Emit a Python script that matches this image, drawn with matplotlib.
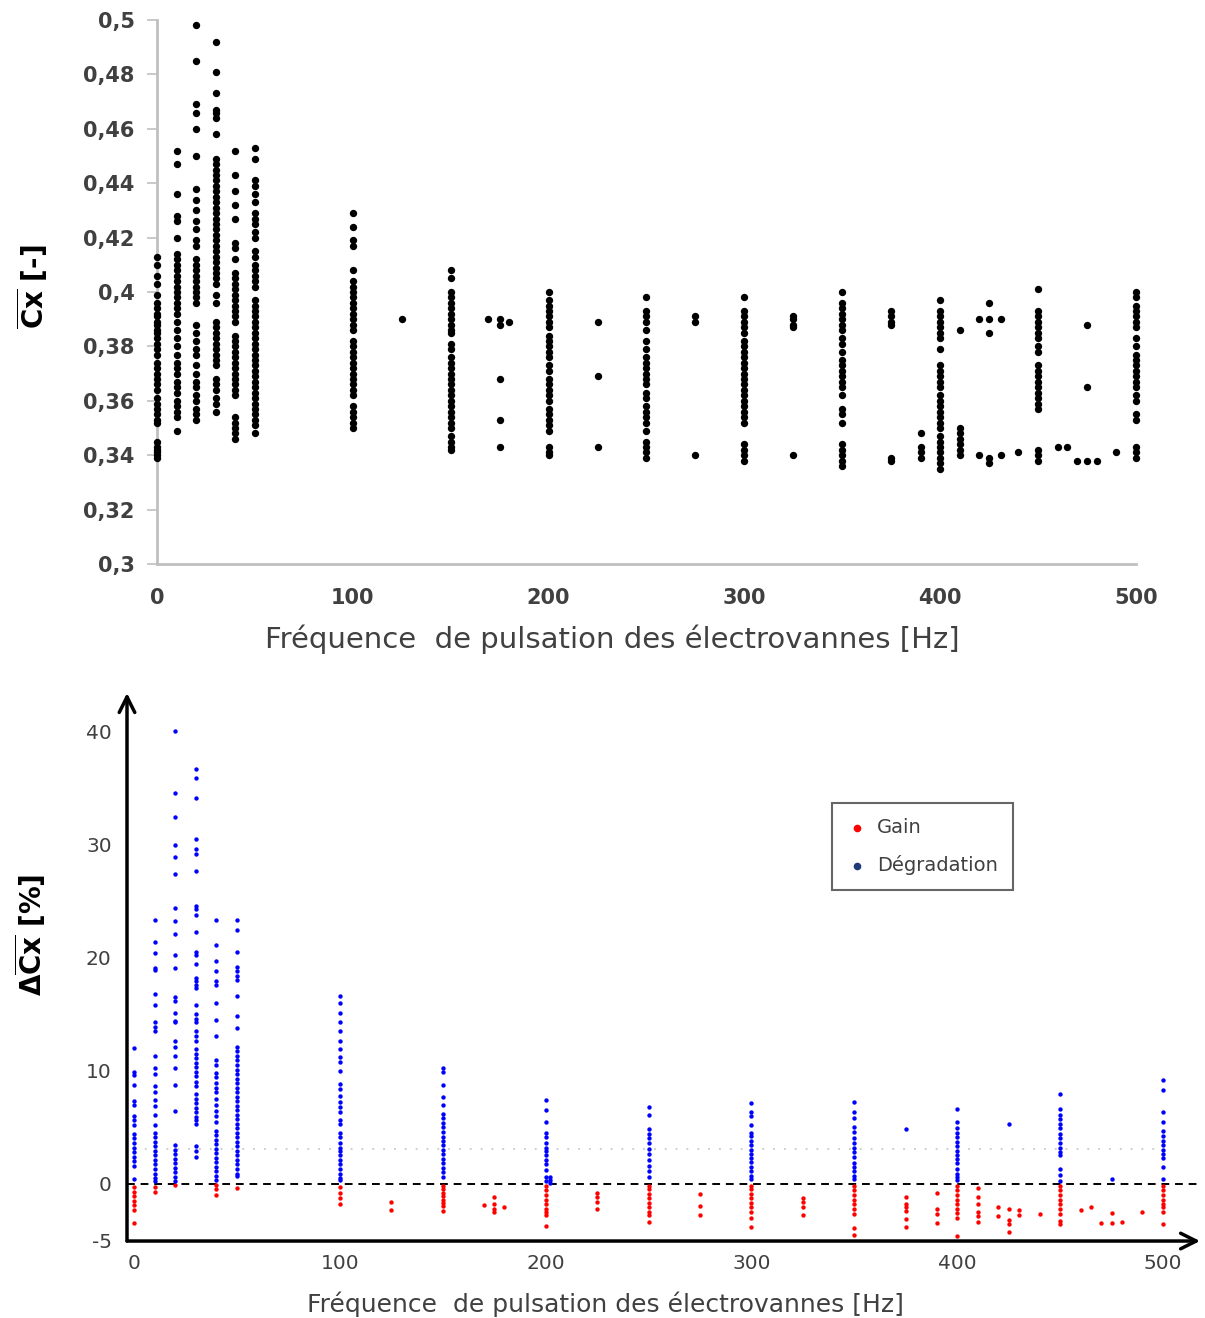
import matplotlib
matplotlib.use("Agg")
import matplotlib.pyplot as plt

# ---------------- top chart data : mean Cx per pulsation frequency ----------------
cx_000 = [0.413, 0.410, 0.406, 0.403, 0.399, 0.396, 0.394, 0.392, 0.391, 0.389, 0.388, 0.386,
          0.385, 0.383, 0.381, 0.379, 0.377, 0.374, 0.372, 0.370, 0.368, 0.366, 0.364, 0.361,
          0.359, 0.357, 0.355, 0.353, 0.352, 0.345, 0.343, 0.342, 0.341, 0.340, 0.339]
cx_010 = [0.452, 0.447, 0.436, 0.428, 0.426, 0.420, 0.414, 0.412, 0.410, 0.408, 0.406, 0.404,
          0.402, 0.400, 0.398, 0.396, 0.394, 0.392, 0.389, 0.386, 0.383, 0.380, 0.377, 0.374,
          0.372, 0.370, 0.367, 0.365, 0.363, 0.360, 0.358, 0.356, 0.354, 0.349]
cx_020 = [0.498, 0.485, 0.469, 0.466, 0.460, 0.450, 0.438, 0.434, 0.430, 0.426, 0.423, 0.419,
          0.417, 0.412, 0.410, 0.408, 0.406, 0.404, 0.402, 0.400, 0.398, 0.396, 0.388, 0.385,
          0.382, 0.379, 0.377, 0.373, 0.370, 0.367, 0.365, 0.362, 0.360, 0.357, 0.355, 0.353]
cx_030 = [0.492, 0.481, 0.473, 0.467, 0.466, 0.464, 0.458, 0.449, 0.447, 0.445, 0.443, 0.441,
          0.439, 0.437, 0.435, 0.433, 0.431, 0.429, 0.427, 0.425, 0.423, 0.421, 0.419, 0.417,
          0.415, 0.413, 0.411, 0.409, 0.407, 0.405, 0.403, 0.399, 0.396, 0.389, 0.387, 0.385,
          0.383, 0.381, 0.379, 0.377, 0.375, 0.373, 0.368, 0.366, 0.364, 0.361, 0.359, 0.356]
cx_040 = [0.452, 0.443, 0.437, 0.432, 0.427, 0.418, 0.416, 0.412, 0.407, 0.405, 0.403, 0.401,
          0.399, 0.397, 0.395, 0.393, 0.391, 0.389, 0.384, 0.382, 0.380, 0.378, 0.376, 0.374,
          0.372, 0.370, 0.368, 0.366, 0.364, 0.362, 0.354, 0.352, 0.350, 0.348, 0.346]
cx_050 = [0.453, 0.449, 0.441, 0.439, 0.436, 0.433, 0.429, 0.427, 0.425, 0.422, 0.420, 0.415,
          0.413, 0.410, 0.408, 0.406, 0.404, 0.402, 0.397, 0.395, 0.393, 0.391, 0.389, 0.387,
          0.385, 0.383, 0.381, 0.379, 0.377, 0.375, 0.373, 0.371, 0.369, 0.367, 0.365, 0.363,
          0.361, 0.359, 0.357, 0.355, 0.353, 0.351, 0.348]
cx_100 = [0.429, 0.424, 0.419, 0.417, 0.408, 0.404, 0.402, 0.400, 0.398, 0.396, 0.394, 0.392,
          0.390, 0.388, 0.386, 0.382, 0.380, 0.378, 0.376, 0.374, 0.372, 0.370, 0.368, 0.366,
          0.364, 0.362, 0.358, 0.356, 0.354, 0.352, 0.350]
cx_125 = [0.390]
cx_150 = [0.408, 0.405, 0.400, 0.398, 0.396, 0.394, 0.392, 0.390, 0.388, 0.386, 0.385, 0.381,
          0.379, 0.376, 0.374, 0.372, 0.370, 0.368, 0.366, 0.364, 0.362, 0.360, 0.358, 0.356,
          0.354, 0.352, 0.350, 0.347, 0.345, 0.343, 0.342]
cx_169 = [0.390]
cx_175 = [0.390, 0.388, 0.368, 0.353, 0.343]
cx_180 = [0.389]
cx_200 = [0.400, 0.397, 0.395, 0.393, 0.391, 0.389, 0.387, 0.384, 0.382, 0.380, 0.378, 0.376,
          0.373, 0.371, 0.368, 0.366, 0.364, 0.362, 0.360, 0.357, 0.355, 0.353, 0.351, 0.349,
          0.343, 0.341, 0.340]
cx_225 = [0.389, 0.369, 0.343]
cx_250 = [0.398, 0.393, 0.391, 0.389, 0.386, 0.382, 0.379, 0.376, 0.374, 0.372, 0.370, 0.368,
          0.366, 0.363, 0.361, 0.358, 0.356, 0.354, 0.352, 0.349, 0.345, 0.343, 0.341, 0.339]
cx_275 = [0.391, 0.389, 0.340]
cx_300 = [0.398, 0.393, 0.391, 0.389, 0.387, 0.385, 0.382, 0.380, 0.378, 0.376, 0.374, 0.372,
          0.370, 0.368, 0.366, 0.364, 0.362, 0.360, 0.358, 0.356, 0.354, 0.352, 0.344, 0.342,
          0.340, 0.338]
cx_325 = [0.391, 0.390, 0.388, 0.387, 0.340]
cx_350 = [0.400, 0.396, 0.394, 0.392, 0.390, 0.388, 0.386, 0.383, 0.381, 0.378, 0.375, 0.373,
          0.371, 0.369, 0.367, 0.365, 0.362, 0.357, 0.355, 0.352, 0.344, 0.342, 0.340, 0.338,
          0.336]
cx_375 = [0.393, 0.391, 0.389, 0.388, 0.339, 0.338]
cx_390 = [0.348, 0.343, 0.341, 0.339]
cx_400 = [0.397, 0.393, 0.391, 0.389, 0.387, 0.385, 0.383, 0.379, 0.373, 0.371, 0.369, 0.367,
          0.365, 0.362, 0.360, 0.358, 0.356, 0.354, 0.352, 0.350, 0.347, 0.345, 0.343, 0.341,
          0.339, 0.337, 0.335]
cx_410 = [0.386, 0.350, 0.348, 0.346, 0.344, 0.342, 0.340]
cx_420 = [0.390, 0.340]
cx_425 = [0.396, 0.390, 0.385, 0.339, 0.337]
cx_431 = [0.390, 0.340]
cx_440 = [0.341]
cx_460 = [0.343]
cx_465 = [0.343]
cx_470 = [0.338]
cx_475 = [0.388, 0.365, 0.338]
cx_480 = [0.338]
cx_490 = [0.341]
cx_450 = [0.401, 0.393, 0.391, 0.389, 0.387, 0.385, 0.383, 0.380, 0.378, 0.373, 0.371, 0.369,
          0.367, 0.365, 0.363, 0.361, 0.359, 0.357, 0.342, 0.340, 0.338]
cx_500 = [0.400, 0.398, 0.395, 0.393, 0.391, 0.389, 0.387, 0.383, 0.380, 0.377, 0.375, 0.373,
          0.371, 0.369, 0.367, 0.365, 0.362, 0.360, 0.355, 0.353, 0.343, 0.341, 0.339]

top_columns = [(0, cx_000), (10, cx_010), (20, cx_020), (30, cx_030), (40, cx_040),
               (50, cx_050), (100, cx_100), (125, cx_125), (150, cx_150), (169, cx_169),
               (175, cx_175), (180, cx_180), (200, cx_200), (225, cx_225), (250, cx_250),
               (275, cx_275), (300, cx_300), (325, cx_325), (350, cx_350), (375, cx_375),
               (390, cx_390), (400, cx_400), (410, cx_410), (420, cx_420), (425, cx_425),
               (431, cx_431), (440, cx_440), (450, cx_450), (460, cx_460), (465, cx_465),
               (470, cx_470), (475, cx_475), (480, cx_480), (490, cx_490), (500, cx_500)]

top_yticks = [0.30, 0.32, 0.34, 0.36, 0.38, 0.40, 0.42, 0.44, 0.46, 0.48, 0.50]
top_yticklabels = ["0,3", "0,32", "0,34", "0,36", "0,38", "0,4", "0,42", "0,44", "0,46", "0,48", "0,5"]
xticks = [0, 100, 200, 300, 400, 500]

# ---------------- bottom chart data : delta Cx [%] ----------------
deg_000 = [12.0, 9.9, 9.6, 8.7, 7.3, 7.0, 6.0, 5.6, 5.2, 4.4, 4.0, 3.6, 3.2, 2.8, 2.4, 2.0, 1.6, 0.4]
gain_000 = [-0.3, -0.7, -1.1, -1.5, -1.9, -2.3, -3.5]
deg_010 = [23.3, 21.4, 20.4, 19.1, 18.9, 16.8, 15.8, 14.3, 13.9, 13.5, 11.3, 10.2, 9.7, 8.6, 8.1,
           7.4, 6.9, 6.1, 5.2, 4.5, 4.1, 3.7, 3.3, 2.9, 2.5, 2.1, 1.7, 1.3, 0.9, 0.5, 0.2]
gain_010 = [-0.3, -0.7]
deg_020 = [40.0, 34.6, 32.4, 30.0, 28.9, 27.4, 24.4, 23.2, 22.1, 20.2, 19.1, 16.5, 16.2, 15.1,
           14.4, 14.3, 12.6, 12.1, 11.3, 10.2, 8.7, 6.4, 3.4, 3.0, 2.6, 2.2, 1.8, 1.4, 1.0, 0.6, 0.2]
gain_020 = [-0.1]
deg_030 = [36.7, 35.9, 34.1, 30.5, 29.6, 29.2, 27.7, 24.6, 24.3, 23.8, 22.3, 20.5, 20.2, 19.4,
           18.2, 17.9, 17.6, 17.3, 15.8, 15.0, 14.6, 14.3, 13.5, 13.1, 12.6, 11.9, 11.5, 11.1,
           10.7, 10.3, 9.9, 9.5, 9.0, 8.6, 7.9, 7.5, 7.1, 6.7, 6.3, 5.9, 5.6, 5.3, 3.3, 2.9, 2.4]
gain_030 = []
deg_040 = [23.3, 21.1, 19.7, 18.8, 17.9, 17.6, 16.0, 14.5, 13.1, 10.9, 10.5, 9.8, 9.4, 8.9, 8.5,
           8.1, 7.5, 7.0, 6.4, 6.0, 5.5, 4.7, 4.3, 3.9, 3.5, 3.1, 2.7, 2.3, 1.9, 1.5, 1.1, 0.7, 0.3]
gain_040 = [-0.1, -0.5, -1.0]
deg_050 = [23.3, 22.4, 20.5, 19.2, 18.8, 18.4, 18.0, 16.6, 14.8, 13.8, 12.1, 11.7, 11.3, 10.9,
           10.5, 10.1, 9.7, 9.3, 8.9, 8.5, 8.1, 7.7, 7.3, 6.9, 6.5, 6.1, 5.7, 5.3, 4.9, 4.5, 4.1,
           3.7, 3.3, 2.9, 2.5, 2.1, 1.7, 1.3, 0.9, 0.7]
gain_050 = [-0.4]
deg_100 = [16.6, 16.0, 15.1, 14.3, 13.5, 12.6, 11.9, 11.2, 10.8, 10.0, 8.8, 8.4, 7.8, 7.2, 6.8,
           6.3, 5.6, 5.3, 4.5, 4.1, 3.6, 3.2, 2.9, 2.5, 2.1, 1.7, 1.3, 0.9, 0.5, 0.3]
gain_100 = [-0.3, -0.8, -1.3, -1.8]
gain_125 = [-1.6, -2.3]
deg_150 = [10.2, 9.9, 8.7, 7.7, 7.0, 6.2, 5.8, 5.4, 5.0, 4.6, 4.1, 3.8, 3.4, 3.0, 2.6, 2.2, 1.8,
           1.4, 1.0, 0.6]
gain_150 = [-0.2, -0.5, -0.8, -1.1, -1.4, -1.7, -2.0, -2.4]
gain_170 = [-1.9]
gain_175 = [-1.2, -1.8, -2.2, -2.5]
gain_180 = [-2.1]
deg_200 = [7.4, 6.5, 5.5, 4.5, 4.1, 3.6, 3.2, 2.9, 2.5, 2.1, 1.7, 1.2, 0.6, 0.2]
gain_200 = [-0.2, -0.6, -1.0, -1.4, -1.8, -2.2, -2.5, -2.8, -3.7]
deg_202 = [0.6, 0.3, 0.1]
gain_225 = [-0.8, -1.2, -1.6, -2.2]
deg_250 = [6.8, 6.1, 4.8, 4.4, 4.0, 3.6, 3.1, 2.6, 2.1, 1.6, 1.1, 0.6]
gain_250 = [-0.2, -0.5, -0.9, -1.3, -1.7, -2.1, -2.5, -2.8, -3.4]
gain_275 = [-0.9, -2.0, -2.8]
deg_300 = [7.1, 6.3, 6.0, 5.2, 4.5, 4.2, 3.8, 3.4, 3.0, 2.6, 2.3, 1.9, 1.5, 1.1, 0.7, 0.4]
gain_300 = [-0.2, -0.5, -0.9, -1.3, -1.7, -2.1, -2.5, -3.0, -3.8]
gain_325 = [-1.3, -1.6, -2.1, -2.8]
deg_350 = [7.2, 6.3, 5.8, 5.0, 4.6, 4.0, 3.6, 3.2, 2.8, 2.4, 1.8, 1.5, 1.1, 0.7, 0.4]
gain_350 = [-0.2, -0.6, -1.0, -1.4, -1.8, -2.2, -2.7, -3.9, -4.5]
deg_375 = [4.8]
gain_375 = [-1.2, -1.8, -2.1, -2.4, -3.1, -3.8]
gain_390 = [-0.8, -2.2, -2.7, -3.5]
deg_400 = [6.6, 5.5, 4.9, 4.5, 4.1, 3.7, 3.3, 2.9, 2.5, 2.2, 1.8, 1.3, 0.9, 0.6, 0.3]
gain_400 = [-0.2, -0.6, -1.0, -1.4, -1.8, -2.2, -2.6, -3.0, -4.6]
gain_410 = [-0.35, -1.2, -1.8, -2.5, -2.9, -3.4]
gain_420 = [-2.1, -2.9]
deg_425 = [5.3]
gain_425 = [-2.2, -3.2, -3.6, -4.3]
gain_430 = [-2.3, -2.8]
gain_440 = [-2.7]
deg_450 = [7.9, 6.6, 6.1, 5.7, 5.3, 4.9, 4.4, 4.0, 3.6, 3.2, 2.8, 2.5, 1.3, 0.8, 0.2]
gain_450 = [-0.2, -0.6, -1.0, -1.4, -1.8, -2.2, -2.7, -3.3, -3.6]
gain_460 = [-2.3]
gain_465 = [-2.1]
gain_470 = [-3.5]
deg_475 = [0.4]
gain_475 = [-2.6, -3.5]
gain_480 = [-3.4]
gain_490 = [-2.5]
deg_500 = [9.2, 8.3, 6.3, 5.5, 4.7, 4.2, 3.8, 3.4, 3.0, 2.6, 2.3, 1.5, 0.4]
gain_500 = [-0.2, -0.6, -1.0, -1.4, -1.8, -2.1, -2.5, -3.6]

deg_columns = [(0, deg_000), (10, deg_010), (20, deg_020), (30, deg_030), (40, deg_040),
               (50, deg_050), (100, deg_100), (150, deg_150), (200, deg_200), (202, deg_202),
               (250, deg_250), (300, deg_300), (350, deg_350), (375, deg_375), (400, deg_400),
               (425, deg_425), (450, deg_450), (475, deg_475), (500, deg_500)]
gain_columns = [(0, gain_000), (10, gain_010), (20, gain_020), (30, gain_030), (40, gain_040),
                (50, gain_050), (100, gain_100), (125, gain_125), (150, gain_150),
                (170, gain_170), (175, gain_175), (180, gain_180), (200, gain_200),
                (225, gain_225), (250, gain_250), (275, gain_275), (300, gain_300),
                (325, gain_325), (350, gain_350), (375, gain_375), (390, gain_390),
                (400, gain_400), (410, gain_410), (420, gain_420), (425, gain_425),
                (430, gain_430), (440, gain_440), (450, gain_450), (460, gain_460),
                (465, gain_465), (470, gain_470), (475, gain_475), (480, gain_480),
                (490, gain_490), (500, gain_500)]

bottom_yticks = [-5, 0, 10, 20, 30, 40]
threshold_level = 3.05

# ---------------- figure ----------------
plt.rcParams['font.family'] = ['DejaVu Sans']
plt.rcParams['axes.unicode_minus'] = False
fig = plt.figure(figsize=(12.05, 13.18), dpi=100)
GREY = '#404040'

# ---- top chart ----
ax1 = fig.add_axes([0.1303, 0.5721, 0.8124, 0.4127])
tx, ty = [], []
for f, vals in top_columns:
    tx += [f] * len(vals)
    ty += vals
ax1.scatter(tx, ty, s=28, c='black', marker='o', linewidths=0, clip_on=False, zorder=3)
ax1.set_xlim(0, 500)
ax1.set_ylim(0.3, 0.5)
ax1.set_yticks(top_yticks)
ax1.set_yticklabels(top_yticklabels)
ax1.set_xticks(xticks)
ax1.set_xticklabels([str(v) for v in xticks])
for s in ['top', 'right']:
    ax1.spines[s].set_visible(False)
for s in ['left', 'bottom']:
    ax1.spines[s].set_color('#c0c0c0')
    ax1.spines[s].set_linewidth(2)
ax1.tick_params(axis='y', length=7, width=1.2, color='#c0c0c0', pad=9,
                labelsize=15, labelcolor=GREY)
ax1.tick_params(axis='x', length=0, pad=17, labelsize=15, labelcolor=GREY)
for lab in ax1.get_xticklabels() + ax1.get_yticklabels():
    lab.set_fontweight('bold')
ax1.set_xlabel("Fréquence  de pulsation des électrovannes [Hz]", fontsize=21,
               color=GREY)
ax1.xaxis.set_label_coords(0.465, -0.112)
ax1.set_ylabel(r"$\overline{\mathbf{Cx}}$ [-]", fontsize=20, fontweight='bold',
               color='black')
ax1.yaxis.set_label_coords(-0.109, 0.51)

# ---- bottom chart ----
ax2 = fig.add_axes([0.1054, 0.0584, 0.8905, 0.4158])
ax2.set_xlim(-3.4, 518)
ax2.set_ylim(-5.07, 43.4)
for s in ax2.spines.values():
    s.set_visible(False)

ax2.plot([0, 500], [threshold_level, threshold_level], color='#c8c8c8',
         ls=(0, (1, 5)), lw=1.3, zorder=1)
ax2.axhline(0, color='black', ls=(0, (4, 3)), lw=1.4, zorder=2)

gx, gy = [], []
for f, vals in gain_columns:
    gx += [f] * len(vals)
    gy += vals
dx, dy = [], []
for f, vals in deg_columns:
    dx += [f] * len(vals)
    dy += vals
ax2.scatter(gx, gy, s=10, c='#ff0000', linewidths=0, zorder=3)
ax2.scatter(dx, dy, s=10, c='#0000ff', linewidths=0, zorder=3)

ax2.annotate('', xy=(1.0, 0.0), xytext=(0.0, 0.0), xycoords='axes fraction',
             arrowprops=dict(arrowstyle='->', lw=2.5, color='black', mutation_scale=28,
                             shrinkA=0, shrinkB=0))
ax2.annotate('', xy=(0.0, 1.0), xytext=(0.0, 0.0), xycoords='axes fraction',
             arrowprops=dict(arrowstyle='->', lw=2.5, color='black', mutation_scale=28,
                             shrinkA=0, shrinkB=0))

ax2.set_yticks(bottom_yticks)
ax2.set_xticks(xticks)
ax2.tick_params(axis='both', length=0, labelsize=14.5, labelcolor=GREY)
ax2.tick_params(axis='y', pad=11)
ax2.tick_params(axis='x', pad=9)
ax2.set_xlabel("Fréquence  de pulsation des électrovannes [Hz]", fontsize=18,
               color=GREY)
ax2.xaxis.set_label_coords(0.4455, -0.093)
ax2.set_ylabel(r"$\mathbf{\Delta}\overline{\mathbf{Cx}}$ [%]", fontsize=20,
               fontweight='bold', color='black')
ax2.yaxis.set_label_coords(-0.0736, 0.558)

h1 = ax2.scatter([], [], s=30, c='#ff0000', linewidths=0, label='Gain')
h2 = ax2.scatter([], [], s=30, c='#1f3a78', linewidths=0, label='Dégradation')
leg = ax2.legend(handles=[h1, h2], loc='upper left', bbox_to_anchor=(0.657, 0.80),
                 fontsize=14, frameon=True, fancybox=False, edgecolor='#404040',
                 borderpad=0.8, labelspacing=0.9, handlelength=1.0, handletextpad=0.5,
                 borderaxespad=0)
leg.get_frame().set_linewidth(1.5)
for t in leg.get_texts():
    t.set_color(GREY)

fig.savefig('out.png', dpi=100, facecolor='white')
